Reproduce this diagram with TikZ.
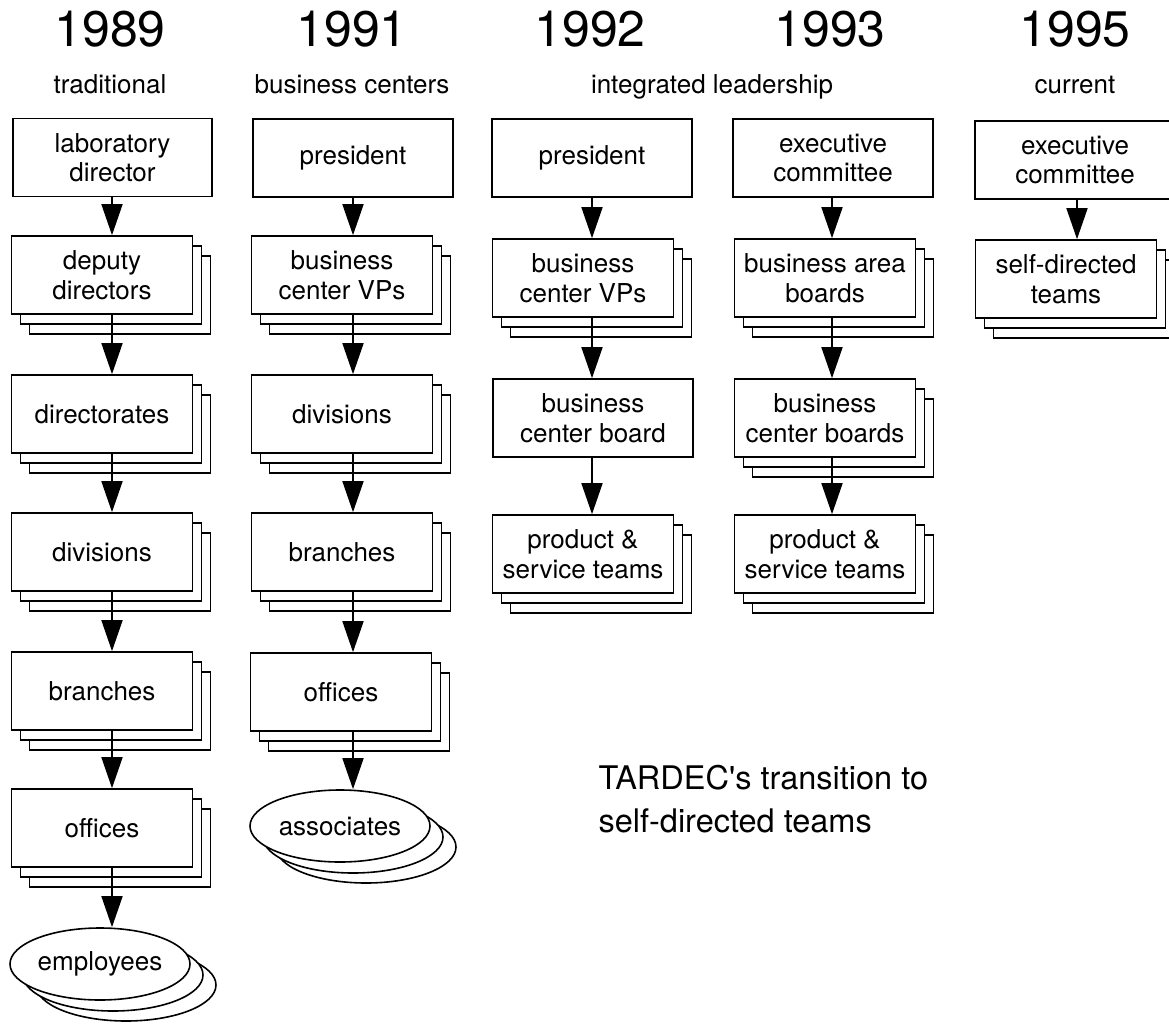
\documentclass[tikz,border=0pt]{standalone}
\usepackage{fontspec}
\setmainfont{TeX Gyre Heros}
\usetikzlibrary{arrows.meta,shapes.geometric,shadows}
\tikzset{
  lw/.style={line width=1.6pt},
  box/.style={draw,lw,fill=white,minimum height=78pt,inner sep=0pt,align=center,
    font=\fontsize{26}{29.5}\selectfont},
  single/.style={box,minimum width=199pt},
  widebox/.style={box,minimum width=200pt},
  stackbox/.style={box,minimum width=181pt,
    copy shadow={shadow xshift=18pt,shadow yshift=-20pt,lw,fill=white,draw=black},
    copy shadow={shadow xshift=9pt,shadow yshift=-10pt,lw,fill=white,draw=black}},
  crowd/.style={ellipse,draw,lw,fill=white,minimum width=180pt,minimum height=72pt,inner sep=0pt,
    font=\fontsize{26}{29}\selectfont,
    copy shadow={shadow xshift=26pt,shadow yshift=-21pt,lw,fill=white,draw=black},
    copy shadow={shadow xshift=13pt,shadow yshift=-11pt,lw,fill=white,draw=black}},
  arr/.style={lw,-{Triangle[length=31pt,width=21pt]}},
  year/.style={anchor=base,font=\fontsize{50}{56}\selectfont},
  era/.style={anchor=base,font=\fontsize{26}{29}\selectfont},
  title/.style={anchor=north west,align=left,font=\fontsize{32.5}{43}\selectfont}
}
\begin{document}
\begin{tikzpicture}[x=1pt,y=-1pt]
\useasboundingbox (0,0) rectangle (1169,1024);
\clip (0,0) rectangle (1169,1024);
% headers
\node[year] (y89) at (110,47) {1989};
\node[year] (y91) at (352,47) {1991};
\node[year] (y92) at (590,47) {1992};
\node[year] (y93) at (830,47) {1993};
\node[year] (y95) at (1075,47) {1995};
\node[era] (e89) at (110,94) {traditional};
\node[era] (e91) at (352,94) {business centers};
\node[era] (e92) at (712,94) {integrated leadership};
\node[era] (e95) at (1075,94) {current};
% arrow axes
\coordinate (c1) at (112,0);
\coordinate (c2) at (353,0);
\coordinate (c3) at (592,0);
\coordinate (c4) at (832,0);
\coordinate (c5) at (1077,0);
% column 1989
\node[single] (lab) at (112.5,157.5) {laboratory\\director};
\node[stackbox] (dep) at (102,275) {deputy\\directors};
\node[stackbox] (dirs) at (102,414) {directorates};
\node[stackbox] (div1) at (102,552) {divisions};
\node[stackbox] (br1) at (102,691) {branches};
\node[stackbox] (off1) at (102,828) {offices};
\node[crowd] (emp) at (100,964) {employees};
% column 1991
\node[widebox] (pres2) at (353,158) {president};
\node[stackbox] (bcv2) at (342,275) {business\\center VPs};
\node[stackbox] (div2) at (342,414) {divisions};
\node[stackbox] (br2) at (342,552) {branches};
\node[stackbox] (off2) at (341,692) {offices};
\node[crowd] (asc) at (340,826) {associates};
% column 1992
\node[widebox] (pres3) at (592,158) {president};
\node[stackbox] (bcv3) at (583,278) {business\\center VPs};
\node[widebox] (bcb3) at (593,418) {business\\center board};
\node[stackbox] (pst3) at (583,554) {product \&\\service teams};
% column 1993
\node[widebox] (exe4) at (833,158) {executive\\committee};
\node[stackbox] (bab4) at (825,278) {business area\\boards};
\node[stackbox] (bcb4) at (825,418) {business\\center boards};
\node[stackbox] (pst4) at (825,554) {product \&\\service teams};
% column 1995
\node[widebox] (exe5) at (1075,160) {executive\\committee};
\node[stackbox] (sdt5) at (1066,279) {self-directed\\teams};
% title
\node[title] (ttl) at (595,762) {TARDEC\textquotesingle s transition to\\self-directed teams};
% arrows
\draw[arr] (lab.south -| c1) -- (dep.north -| c1);
\draw[arr] (dep.south -| c1) -- (dirs.north -| c1);
\draw[arr] (dirs.south -| c1) -- (div1.north -| c1);
\draw[arr] (div1.south -| c1) -- (br1.north -| c1);
\draw[arr] (br1.south -| c1) -- (off1.north -| c1);
\draw[arr] (off1.south -| c1) -- (emp.north -| c1);
\draw[arr] (pres2.south -| c2) -- (bcv2.north -| c2);
\draw[arr] (bcv2.south -| c2) -- (div2.north -| c2);
\draw[arr] (div2.south -| c2) -- (br2.north -| c2);
\draw[arr] (br2.south -| c2) -- (off2.north -| c2);
\draw[arr] (off2.south -| c2) -- (asc.north -| c2);
\draw[arr] (pres3.south -| c3) -- (bcv3.north -| c3);
\draw[arr] (bcv3.south -| c3) -- (bcb3.north -| c3);
\draw[arr] (bcb3.south -| c3) -- (pst3.north -| c3);
\draw[arr] (exe4.south -| c4) -- (bab4.north -| c4);
\draw[arr] (bab4.south -| c4) -- (bcb4.north -| c4);
\draw[arr] (bcb4.south -| c4) -- (pst4.north -| c4);
\draw[arr] (exe5.south -| c5) -- (sdt5.north -| c5);
\end{tikzpicture}
\end{document}
